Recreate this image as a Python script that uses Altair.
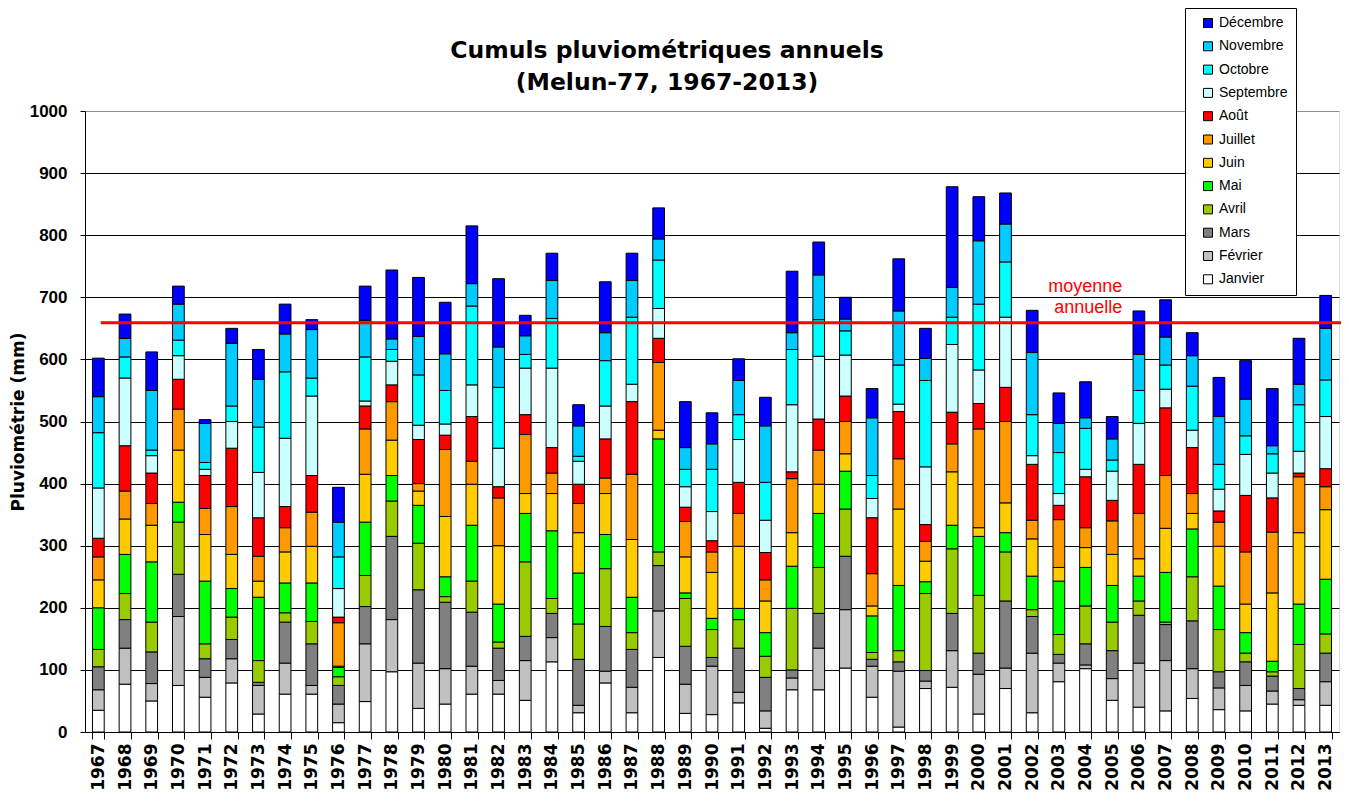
import altair as alt
import pandas as pd

years = [str(y) for y in range(1967, 2014)]
months = ["Janvier", "Février", "Mars", "Avril", "Mai", "Juin", "Juillet",
          "Août", "Septembre", "Octobre", "Novembre", "Décembre"]
colors = ["#FFFFFF", "#C0C0C0", "#808080", "#99CC00", "#00FF00", "#FFCC00",
          "#FF9900", "#FF0000", "#CCFFFF", "#00FFFF", "#00CCFF", "#0000FF"]

# monthly rainfall (mm), 1967 .. 2013
janvier = [35, 77, 50, 75, 56, 79, 29, 61, 61, 15,
           49, 97, 38, 45, 61, 61, 51, 113, 31, 79,
           31, 120, 30, 28, 47, 6, 68, 68, 103, 56,
           8, 70, 72, 29, 70, 31, 81, 102, 51, 40,
           34, 54, 36, 34, 45, 43, 43]
fevrier = [33, 58, 28, 111, 32, 39, 46, 50, 14, 30,
           93, 84, 73, 57, 45, 22, 64, 39, 12, 19,
           41, 75, 47, 78, 17, 28, 19, 67, 94, 50,
           90, 12, 59, 64, 33, 96, 30, 6, 35, 71,
           81, 48, 35, 41, 21, 9, 38]
mars = [37, 46, 51, 68, 30, 31, 5, 66, 67, 30,
        60, 134, 118, 107, 87, 52, 39, 39, 74, 72,
        61, 73, 61, 14, 71, 54, 13, 56, 86, 11,
        15, 17, 60, 34, 108, 59, 14, 34, 45, 77,
        58, 77, 26, 38, 24, 18, 46]
avril = [28, 42, 48, 84, 24, 36, 35, 15, 36, 14,
         50, 57, 75, 9, 50, 10, 120, 24, 57, 93,
         27, 22, 77, 45, 46, 34, 99, 74, 76, 11,
         18, 124, 104, 93, 79, 11, 32, 61, 46, 23,
         4, 71, 68, 14, 7, 71, 31]
mai = [67, 63, 97, 32, 101, 46, 102, 48, 62, 15,
       86, 41, 61, 32, 90, 61, 78, 109, 82, 55,
       57, 182, 9, 18, 18, 38, 68, 87, 61, 59,
       105, 19, 38, 95, 31, 54, 86, 62, 59, 40,
       80, 77, 70, 33, 17, 65, 88]
juin = [45, 57, 59, 84, 75, 55, 26, 50, 59, 2,
        77, 57, 23, 97, 66, 94, 32, 60, 65, 66,
        93, 14, 58, 74, 100, 51, 54, 47, 28, 16,
        123, 33, 86, 14, 48, 60, 22, 32, 50, 28,
        71, 25, 64, 46, 110, 115, 112]
juillet = [37, 45, 35, 66, 42, 77, 40, 39, 55, 70,
           73, 62, 12, 108, 37, 77, 95, 33, 47, 25,
           105, 109, 57, 33, 53, 34, 87, 55, 52, 52,
           81, 32, 45, 159, 131, 30, 77, 32, 54, 73,
           85, 32, 39, 84, 98, 90, 37]
aout = [30, 73, 49, 48, 53, 94, 62, 34, 59, 9,
        37, 27, 71, 23, 72, 18, 32, 41, 31, 63,
        117, 39, 23, 18, 50, 44, 11, 50, 41, 90,
        76, 27, 51, 41, 55, 90, 23, 82, 33, 79,
        109, 74, 18, 91, 55, 6, 29]
septembre = [81, 109, 28, 38, 10, 43, 73, 110, 128, 46,
             8, 38, 23, 18, 51, 62, 75, 128, 37, 53,
             28, 48, 33, 47, 69, 52, 108, 101, 66, 31,
             12, 93, 109, 54, 113, 14, 19, 12, 47, 66,
             30, 28, 35, 66, 40, 35, 84]
octobre = [89, 34, 9, 25, 11, 25, 73, 107, 29, 51,
           71, 19, 81, 54, 127, 98, 22, 80, 8, 73,
           108, 78, 28, 68, 40, 61, 89, 59, 39, 37,
           63, 139, 44, 106, 89, 66, 66, 66, 18, 53,
           39, 71, 40, 30, 31, 75, 59]
novembre = [58, 30, 96, 58, 63, 101, 77, 61, 78, 56,
            59, 17, 62, 59, 36, 65, 30, 61, 49, 45,
            59, 34, 35, 41, 55, 91, 27, 72, 19, 93,
            87, 36, 48, 102, 61, 100, 47, 17, 34, 58,
            45, 49, 77, 59, 13, 33, 83]
decembre = [62, 39, 62, 29, 6, 24, 48, 48, 16, 56,
            55, 111, 95, 83, 93, 110, 33, 44, 34, 82,
            44, 50, 74, 50, 35, 46, 99, 53, 35, 47,
            84, 48, 162, 71, 50, 68, 49, 58, 36, 70,
            60, 37, 63, 62, 92, 74, 53]

moyenne = 659
titre = ["Cumuls pluviométriques annuels", "(Melun-77, 1967-2013)"]

series = [janvier, fevrier, mars, avril, mai, juin, juillet, aout,
          septembre, octobre, novembre, decembre]

rows = []
for mi, (m, vals) in enumerate(zip(months, series)):
    for y, v in zip(years, vals):
        rows.append({"annee": y, "mois": m, "ordre": mi, "pluie": v})
df = pd.DataFrame(rows)

W, H = 1254, 621

xscale = alt.Scale(paddingInner=0.56, paddingOuter=0.28)
yscale = alt.Scale(domain=[0, 1000], nice=False)

bars = alt.Chart(df).mark_bar(stroke="black", strokeWidth=1).encode(
    x=alt.X("annee:N", sort=years, scale=xscale,
            axis=alt.Axis(title=None, labelAngle=270, labelFont="DejaVu Sans",
                          labelFontSize=17, labelFontWeight="bold", labelColor="black",
                          labelPadding=4, tickSize=7, tickBand="extent",
                          domainColor="black", tickColor="black", grid=False,
                          labelOverlap=False)),
    y=alt.Y("pluie:Q", stack="zero", scale=yscale,
            axis=alt.Axis(values=list(range(0, 1001, 100)), format="d",
                          title="Pluviométrie (mm)",
                          labelFont="Liberation Sans", labelFontWeight="bold",
                          labelFontSize=17, labelColor="black", labelPadding=13,
                          tickSize=5, tickColor="black", domainColor="black",
                          grid=True,
                          gridColor=alt.condition("datum.value == 1000",
                                                  alt.value("#909090"), alt.value("black")),
                          titleFont="DejaVu Sans", titleFontSize=17,
                          titleFontWeight="bold", titleColor="black",
                          titleX=-67, titleY=H / 2, titleAngle=270,
                          titleAlign="center", titleBaseline="middle")),
    color=alt.Color("mois:N",
                    scale=alt.Scale(domain=months[::-1], range=colors[::-1]),
                    legend=alt.Legend(orient="none", legendX=1100, legendY=-103,
                                      title=None, symbolType="square", symbolSize=81,
                                      symbolStrokeColor="black", symbolStrokeWidth=1,
                                      labelFont="Liberation Sans", labelFontSize=14,
                                      labelColor="black", fillColor="white",
                                      strokeColor="black", padding=8, rowPadding=9.3,
                                      symbolOffset=8, labelOffset=4)),
    order=alt.Order("ordre:Q", sort="ascending"),
)

mean_df = pd.DataFrame({"annee": ["1967"], "moyenne": [moyenne]})
rule = alt.Chart(mean_df).mark_rule(color="#FF0000", strokeWidth=3).encode(
    x=alt.X("annee:N", sort=years, bandPosition=0.71),
    x2=alt.value(W + 12),
    y=alt.Y("moyenne:Q"),
)

label_df = pd.DataFrame({"annee": ["2005"], "y": [716], "texte": ["moyenne\nannuelle"]})
label = alt.Chart(label_df).mark_text(
    align="right", baseline="middle", dx=10, color="#FF0000", fontSize=18,
    font="Liberation Sans", lineBreak="\n", lineHeight=21,
).encode(
    x=alt.X("annee:N", sort=years),
    y=alt.Y("y:Q"),
    text="texte:N",
)

chart = alt.layer(bars, rule, label).properties(
    width=W, height=H,
    title=alt.TitleParams(titre, font="DejaVu Sans", fontSize=23.5, fontWeight="bold",
                          color="black", anchor="middle", frame="group", dx=-45,
                          offset=0, dy=87, lineHeight=32),
    autosize=alt.AutoSizeParams(type="none"),
    padding={"left": 77, "top": 103, "right": 2, "bottom": 60},
).configure_view(stroke="#909090", strokeWidth=1).configure(background="white")

chart.save("out.html", embed_options={"renderer": "svg", "actions": False})
